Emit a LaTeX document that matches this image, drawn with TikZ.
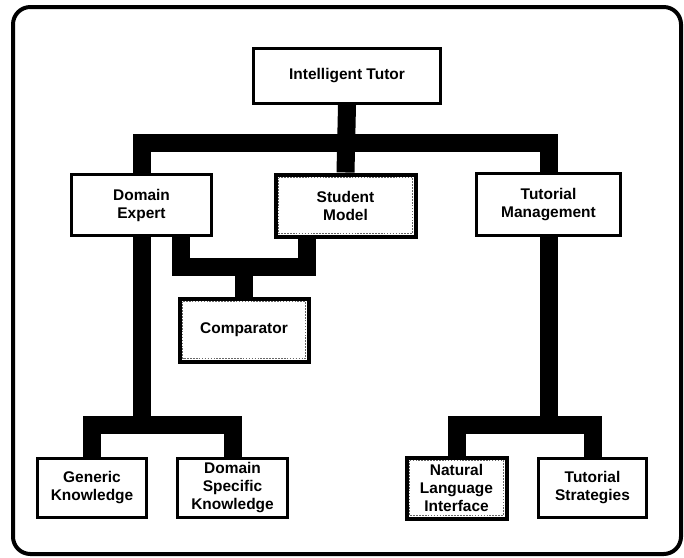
\documentclass[tikz,border=0pt]{standalone}
\usepackage{fontspec}
\setmainfont{Liberation Sans}
\usetikzlibrary{calc}
\begin{document}
\begin{tikzpicture}[x=0.75pt,y=-0.75pt,
  box/.style={draw=black, line width=2.25pt, fill=white, align=center, inner sep=0pt,
    font=\bfseries\fontsize{11.6pt}{13.5pt}\selectfont},
  heavybox/.style={box, line width=3pt},
  sz/.style 2 args={minimum width=#1*0.75pt, minimum height=#2*0.75pt},
  conn/.style={draw=black, line width=13.5pt, line join=miter},
  innerline/.style={draw=black!60, line width=1.2pt, densely dotted},
  frame/.style={draw=black, line width=3pt, rounded corners=13pt}]
\useasboundingbox (0,0) rectangle (684,557);
\fill[white] (0,0) rectangle (684,557);
\draw[frame] (13,7) rectangle (681,554);

% boxes
\node[box, sz={187}{55}] (it) at (347,76) {Intelligent Tutor};
\node[box, sz={140}{61}] (de) at (141.5,205) {Domain\\Expert};
\node[heavybox, sz={140}{62}] (sm) at (345.5,205.5) {Student\\Model};
\node[box, sz={144}{62}] (tm) at (548.5,204.5) {Tutorial\\Management};
\node[heavybox, sz={129}{63}] (cmp) at (244,330) {Comparator};
\node[box, sz={109}{59}] (gk) at (92,488) {Generic\\Knowledge};
\node[box, sz={110}{59}] (dsk) at (232.5,488) {Domain\\Specific\\Knowledge};
\node[heavybox, sz={100}{61}] (nli) at (456.5,488) {Natural\\Language\\Interface};
\node[box, sz={108}{59}] (ts) at (592.5,488) {Tutorial\\Strategies};

% dotted inner borders of the highlighted boxes
\foreach \b in {sm,cmp,nli}
  \draw[innerline] ($(\b.north west)+(5,5)$) rectangle ($(\b.south east)+(-5,-5)$);

% connectors
\coordinate (topbar) at (346.5,143);
\draw[conn] (it.south) -- (sm.north);
\draw[conn] (de.north) |- (topbar) -| (tm.north);

\coordinate (cbar) at (244,267);
\draw[conn] ($(de.south)+(39,0)$) |- (cbar) -| ($(sm.south)+(-39,0)$);
\draw[conn] (cbar) -- (cmp.north);

\coordinate (lbar) at (141.5,425);
\draw[conn] (de.south) -- (lbar);
\draw[conn] (gk.north) |- (lbar) -| (dsk.north);

\coordinate (rbar) at (548.5,425);
\draw[conn] (tm.south) -- (rbar);
\draw[conn] (nli.north) |- (rbar) -| (ts.north);
\end{tikzpicture}
\end{document}
